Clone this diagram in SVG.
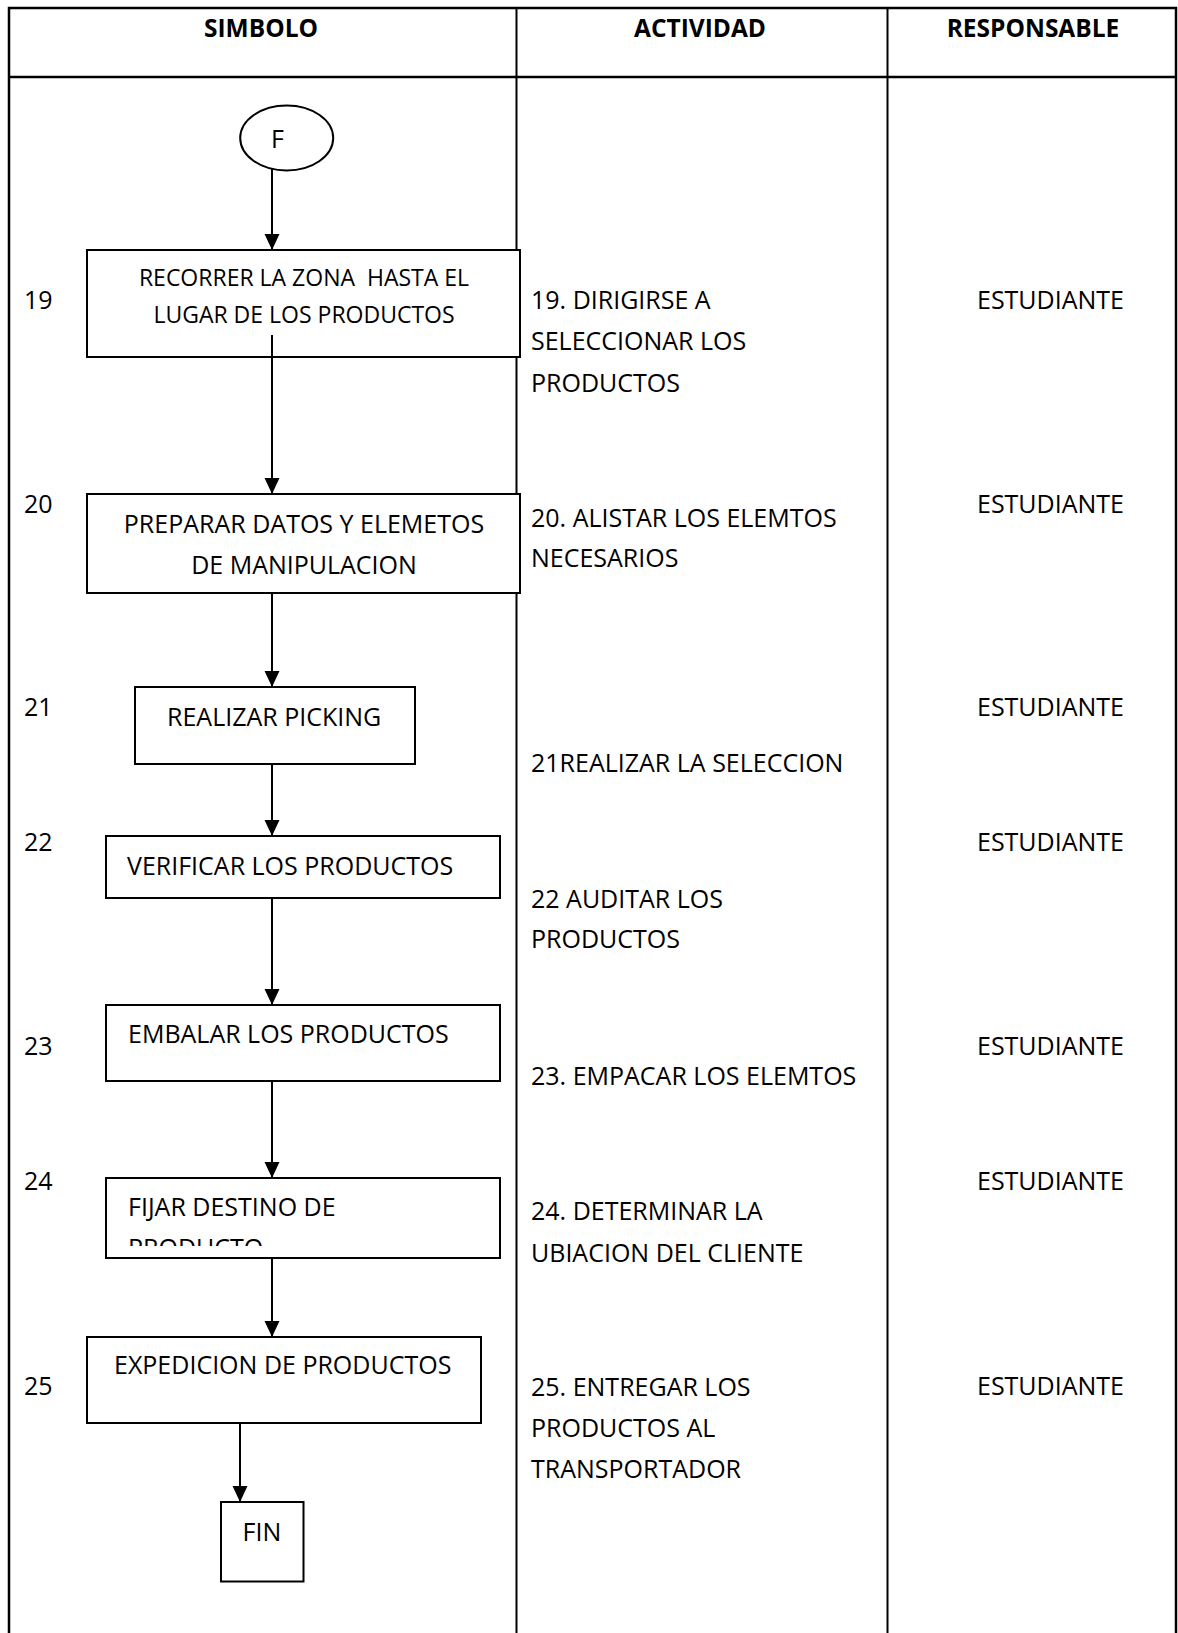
<svg xmlns="http://www.w3.org/2000/svg" width="1178" height="1633" viewBox="0 0 1178 1633">
<style>
  text { font-family: "Open Sans", "Liberation Sans", sans-serif; fill: #000; white-space: pre; }
  .hdr { font-size: 24.5px; font-weight: bold; text-anchor: middle; }
  .t { font-size: 25px; }
  .ts { font-size: 23px; }
  .mid { text-anchor: middle; }
  .box { fill: #fff; stroke: #000; stroke-width: 2; }
  .grid { stroke: #000; stroke-width: 2; fill: none; }
  .outer { stroke: #000; stroke-width: 2.5; fill: none; }
  .conn { stroke: #000; stroke-width: 2; fill: none; marker-end: url(#arr); }
</style>
<defs>
  <marker id="arr" markerUnits="userSpaceOnUse" markerWidth="16" markerHeight="16" viewBox="0 0 16 16" refX="16" refY="8" orient="auto">
    <path d="M0,0.5 L16,8 L0,15.5 z" fill="#000"/>
  </marker>
  <clipPath id="clip24">
    <rect x="100" y="1179" width="400" height="67"/>
  </clipPath>
</defs>
<rect width="1178" height="1633" fill="#fff"/>

<g id="table">
  <rect class="outer" x="9" y="8" width="1167" height="1640"/>
  <line class="outer" x1="9" y1="77" x2="1176" y2="77"/>
  <line class="grid" x1="516.5" y1="8" x2="516.5" y2="1640"/>
  <line class="grid" x1="887.5" y1="8" x2="887.5" y2="1640"/>
  <text class="hdr" x="261" y="36.5">SIMBOLO</text>
  <text class="hdr" x="700" y="36.5">ACTIVIDAD</text>
  <text class="hdr" x="1033" y="36.5">RESPONSABLE</text>
</g>

<g id="connectors">
  <line class="conn" x1="272" y1="169" x2="272" y2="250"/>
  <line class="conn" x1="272" y1="335" x2="272" y2="494"/>
  <line class="conn" x1="272" y1="593" x2="272" y2="687"/>
  <line class="conn" x1="272" y1="764" x2="272" y2="836"/>
  <line class="conn" x1="272" y1="898" x2="272" y2="1005"/>
  <line class="conn" x1="272" y1="1081" x2="272" y2="1178"/>
  <line class="conn" x1="272" y1="1258" x2="272" y2="1337"/>
  <line class="conn" x1="240" y1="1423" x2="240" y2="1502"/>
</g>

<g id="node-F">
  <ellipse class="box" cx="286.7" cy="138" rx="46.5" ry="32.5"/>
  <text class="t" x="271" y="148">F</text>
</g>

<g id="node-19">
  <rect class="box" x="87" y="250" width="433" height="107"/>
  <line class="grid" x1="272" y1="335" x2="272" y2="357"/>
  <text class="ts mid" x="304" y="286">RECORRER LA ZONA  HASTA EL</text>
  <text class="ts mid" x="304" y="323">LUGAR DE LOS PRODUCTOS</text>
</g>

<g id="node-20">
  <rect class="box" x="87" y="494" width="433" height="99"/>
  <text class="t mid" x="304" y="533">PREPARAR DATOS Y ELEMETOS</text>
  <text class="t mid" x="304" y="574">DE MANIPULACION</text>
</g>

<g id="node-21">
  <rect class="box" x="135" y="687" width="280" height="77"/>
  <text class="t" x="167" y="726">REALIZAR PICKING</text>
</g>

<g id="node-22">
  <rect class="box" x="106" y="836" width="394" height="62"/>
  <text class="t" x="127" y="875">VERIFICAR LOS PRODUCTOS</text>
</g>

<g id="node-23">
  <rect class="box" x="106" y="1005" width="394" height="76"/>
  <text class="t" x="128" y="1043">EMBALAR LOS PRODUCTOS</text>
</g>

<g id="node-24">
  <rect class="box" x="106" y="1178" width="394" height="80"/>
  <g clip-path="url(#clip24)">
    <text class="t" x="128" y="1216">FIJAR DESTINO DE</text>
    <text class="t" x="128" y="1257">PRODUCTO</text>
  </g>
</g>

<g id="node-25">
  <rect class="box" x="87" y="1337" width="394" height="86"/>
  <text class="t" x="114" y="1374">EXPEDICION DE PRODUCTOS</text>
</g>

<g id="node-FIN">
  <rect class="box" x="221" y="1502" width="82.5" height="79.5"/>
  <text class="t" x="242.5" y="1541">FIN</text>
</g>

<g id="row-numbers">
  <text class="t" x="24" y="309">19</text>
  <text class="t" x="24" y="513">20</text>
  <text class="t" x="24" y="716">21</text>
  <text class="t" x="24" y="851">22</text>
  <text class="t" x="24" y="1055">23</text>
  <text class="t" x="24" y="1190">24</text>
  <text class="t" x="24" y="1395">25</text>
</g>

<g id="actividad">
  <text class="t" x="531" y="309">19. DIRIGIRSE A</text>
  <text class="t" x="531" y="350">SELECCIONAR LOS</text>
  <text class="t" x="531" y="392">PRODUCTOS</text>
  <text class="t" x="531" y="527">20. ALISTAR LOS ELEMTOS</text>
  <text class="t" x="531" y="567">NECESARIOS</text>
  <text class="t" x="531" y="772">21REALIZAR LA SELECCION</text>
  <text class="t" x="531" y="908">22 AUDITAR LOS</text>
  <text class="t" x="531" y="948">PRODUCTOS</text>
  <text class="t" x="531" y="1085">23. EMPACAR LOS ELEMTOS</text>
  <text class="t" x="531" y="1220">24. DETERMINAR LA</text>
  <text class="t" x="531" y="1262">UBIACION DEL CLIENTE</text>
  <text class="t" x="531" y="1396">25. ENTREGAR LOS</text>
  <text class="t" x="531" y="1437">PRODUCTOS AL</text>
  <text class="t" x="531" y="1478">TRANSPORTADOR</text>
</g>

<g id="responsable">
  <text class="t" x="977" y="309">ESTUDIANTE</text>
  <text class="t" x="977" y="513">ESTUDIANTE</text>
  <text class="t" x="977" y="716">ESTUDIANTE</text>
  <text class="t" x="977" y="851">ESTUDIANTE</text>
  <text class="t" x="977" y="1055">ESTUDIANTE</text>
  <text class="t" x="977" y="1190">ESTUDIANTE</text>
  <text class="t" x="977" y="1395">ESTUDIANTE</text>
</g>
</svg>
